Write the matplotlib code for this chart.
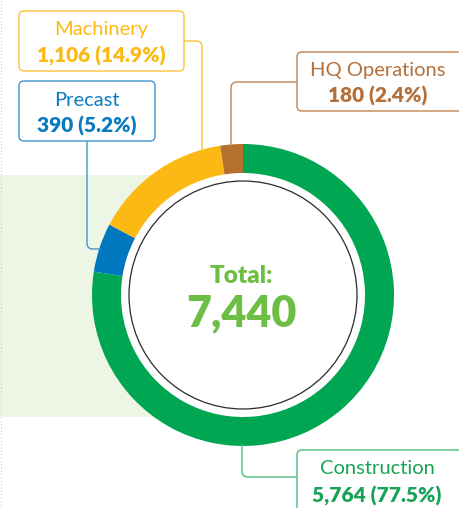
import matplotlib
matplotlib.use("Agg")
import matplotlib.pyplot as plt
from matplotlib.patches import FancyBboxPatch, Rectangle, Circle
from matplotlib.path import Path
from matplotlib.patches import PathPatch
import numpy as np

# Headcount by business segment
segments = ["Construction", "Precast", "Machinery", "HQ Operations"]
headcount = [5764, 390, 1106, 180]
shares = [77.5, 5.2, 14.9, 2.4]
total_label = "7,440"

ring_colors = ["#00A651", "#0077BE", "#FDB913", "#B5702F"]
text_colors = ["#17A257", "#0B7BC0", "#FDB913", "#B5703A"]
edge_colors = ["#4CBB78", "#3D95CC", "#FDC23A", "#C08550"]
total_color = "#6CBE45"

W, H = 459, 508
fig = plt.figure(figsize=(W / 100, H / 100), dpi=100)
ax = fig.add_axes([0, 0, 1, 1])
ax.set_xlim(0, W)
ax.set_ylim(0, H)
ax.set_aspect("equal")
ax.axis("off")

FONT = "Lato"


def Y(y):
    """Convert a top-down pixel row to the axes' bottom-up coordinate."""
    return H - y


cx, cy = 243, Y(295)
r_out, ring_w = 151, 29

# pale band behind the left half of the ring
ax.add_patch(Rectangle((0, Y(417)), cx, 242, facecolor="#EDF5E5",
                       edgecolor="none", zorder=0))
# white hole of the donut
ax.add_patch(Circle((cx, cy), r_out - 1, facecolor="white",
                    edgecolor="none", zorder=0.5))

ax.pie(headcount, colors=ring_colors, startangle=90, counterclock=False,
       center=(cx, cy), radius=r_out,
       wedgeprops=dict(width=ring_w, edgecolor="none", linewidth=0))
ax.set_xlim(0, W)
ax.set_ylim(0, H)
ax.set_aspect("equal")

ax.add_patch(Circle((cx, cy), 114, facecolor="white", edgecolor="#2b2b2b",
                    linewidth=0.9, zorder=3))

ax.text(241, Y(283), "Total:", ha="center", va="baseline", fontsize=17.5,
        fontweight="heavy", color=total_color, family=FONT, zorder=4)
ax.text(241, Y(326), total_label, ha="center", va="baseline", fontsize=31,
        fontweight="heavy", color=total_color, family=FONT, zorder=4)


def leader(points, color, rad=6):
    """Polyline with rounded corners, points in top-down pixel rows."""
    pts = [np.array([x, Y(y)], float) for x, y in points]
    verts = [pts[0]]
    codes = [Path.MOVETO]
    for i in range(1, len(pts) - 1):
        p0, p1, p2 = pts[i - 1], pts[i], pts[i + 1]
        d1 = (p1 - p0) / np.linalg.norm(p1 - p0)
        d2 = (p2 - p1) / np.linalg.norm(p2 - p1)
        verts += [p1 - d1 * rad, p1, p1 + d2 * rad]
        codes += [Path.LINETO, Path.CURVE3, Path.CURVE3]
    verts.append(pts[-1])
    codes.append(Path.LINETO)
    ax.add_patch(PathPatch(Path(verts, codes), facecolor="none",
                           edgecolor=color, linewidth=1.0, zorder=1))


def ring_y(x, top=True):
    dy = np.sqrt(r_out ** 2 - (x - cx) ** 2)
    return 295 - dy if top else 295 + dy


def ring_x(y):
    return cx - np.sqrt(r_out ** 2 - (y - 295) ** 2)


def label_box(i, x0, y0, x1, y1, tx, b1, b2):
    ax.add_patch(FancyBboxPatch((x0, Y(y1)), x1 - x0, y1 - y0,
                                boxstyle="round,pad=0,rounding_size=5",
                                facecolor="white", edgecolor=edge_colors[i],
                                linewidth=1.0, zorder=2))
    ax.text(tx, Y(b1), segments[i], ha="center", va="baseline",
            fontsize=14.5, color=text_colors[i], family=FONT, zorder=4)
    ax.text(tx, Y(b2), f"{headcount[i]:,} ({shares[i]}%)", ha="center",
            va="baseline", fontsize=15, fontweight="heavy",
            color=text_colors[i], family=FONT, zorder=4)


# leader lines
leader([(184, 41), (202, 41), (202, ring_y(202) + 2)], edge_colors[2])
leader([(87, 141), (87, 249), (ring_x(249) + 2, 249)], edge_colors[1])
leader([(297, 82), (231, 82), (231, ring_y(231) + 2)], edge_colors[3])
leader([(297, 477), (242, 477), (242, ring_y(242, top=False) - 2)],
       edge_colors[0])

label_box(2, 19, 11, 184, 71, 101, 35, 62)
label_box(1, 19, 81, 155, 141, 87, 106, 133)
label_box(3, 297, 52, 470, 111, 378, 76, 103)
label_box(0, 297, 450, 470, 520, 377, 474, 502)

# faint dotted page edge on the left
ax.plot([1, 1], [0, H], color="#cfcfcf", linewidth=0.8,
        linestyle=(0, (1, 2)), zorder=0)

fig.savefig("out.png", dpi=100)
